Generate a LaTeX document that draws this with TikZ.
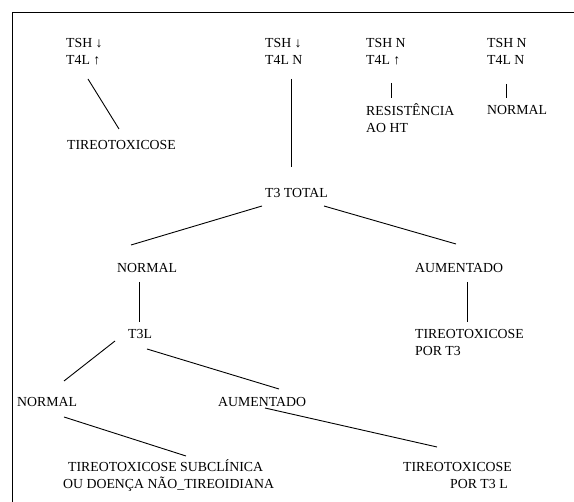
\documentclass[tikz,border=0pt]{standalone}
\usepackage{fontspec}
\setmainfont{Liberation Serif}
\usetikzlibrary{calc}
\begin{document}
\begin{tikzpicture}[x=1pt,y=-1pt,
  lbl/.style={inner sep=0pt, anchor=west, font=\fontsize{13.8}{17}\selectfont, align=left},
  conn/.style={line width=0.9pt}]
\useasboundingbox (0,0) rectangle (574,502);
\draw[line width=1pt] (574,13) -- (12,13) -- (12,502);

\node[lbl] (c1) at (66,51.5) {TSH ↓\\T4L ↑};
\node[lbl] (c2) at (265,51.5) {TSH ↓\\T4L N};
\node[lbl] (c3) at (366,51.5) {TSH N\\T4L ↑};
\node[lbl] (c4) at (487,51.5) {TSH N\\T4L N};
\node[lbl] (tox1) at (67,145) {TIREOTOXICOSE};
\node[lbl] (res) at (366,118.5) {RESISTÊNCIA\\AO HT};
\node[lbl] (nor1) at (487,110) {NORMAL};
\node[lbl] (t3t) at (265,193) {T3 TOTAL};
\node[lbl] (nor2) at (117,268) {NORMAL};
\node[lbl] (aum2) at (415,268) {AUMENTADO};
\node[lbl] (t3l) at (128,334) {T3L};
\node[lbl] (tox3) at (415,342.5) {TIREOTOXICOSE\\POR T3};
\node[lbl] (nor3) at (17,402) {NORMAL};
\node[lbl] (aum3) at (218,402) {AUMENTADO};
\node[lbl] (sub) at (63,475.5) {\hspace*{5pt}TIREOTOXICOSE SUBCLÍNICA\\OU DOENÇA NÃO\_TIREOIDIANA};
\node[lbl] (tox3l) at (403,475.5) {TIREOTOXICOSE\\\hspace*{47pt}POR T3 L};

\draw[conn] ($(c1.west)+(22,27.5)$) -- ($(tox1.west)+(52,-16)$);
\draw[conn] ($(c2.west)+(26,27.5)$) -- ($(t3t.west)+(26,-26)$);
\draw[conn] ($(c3.west)+(25,31.5)$) -- ($(res.west)+(25,-20.5)$);
\draw[conn] ($(c4.west)+(19,32.5)$) -- ($(nor1.west)+(19,-12)$);
\draw[conn] ($(t3t.west)+(-3,13)$) -- ($(nor2.west)+(14,-23)$);
\draw[conn] ($(t3t.west)+(59,13)$) -- ($(aum2.west)+(41,-24)$);
\draw[conn] ($(nor2.west)+(22,14)$) -- ($(t3l.west)+(11,-12)$);
\draw[conn] ($(aum2.west)+(52,14)$) -- ($(tox3.west)+(52,-20.5)$);
\draw[conn] ($(t3l.west)+(-13,7)$) -- ($(nor3.west)+(47,-21)$);
\draw[conn] ($(t3l.west)+(19,15)$) -- ($(aum3.west)+(61,-13)$);
\draw[conn] ($(nor3.west)+(47,15)$) -- ($(sub.west)+(123,-19.5)$);
\draw[conn] ($(aum3.west)+(47,6)$) -- ($(tox3l.west)+(34,-28.5)$);
\end{tikzpicture}
\end{document}
